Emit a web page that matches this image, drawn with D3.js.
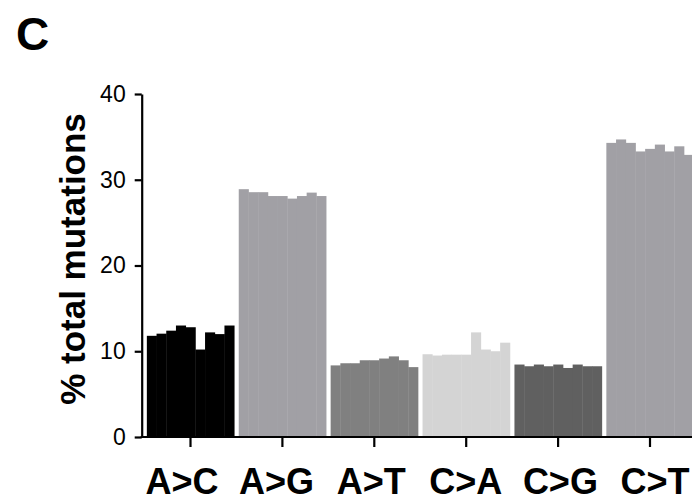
<!DOCTYPE html>
<html>
<head>
<meta charset="utf-8">
<script src="https://cdn.jsdelivr.net/npm/d3@7"></script>
<style>
  html, body { margin: 0; padding: 0; background: #fff; }
  svg { display: block; font-family: "Liberation Sans", Arial, Helvetica, sans-serif; }
</style>
</head>
<body>
<svg id="chart" width="692" height="502"></svg>
<script>
// ---- data ----
const categories = ["A>C", "A>G", "A>T", "C>A", "C>G", "C>T"];
const replicates = ["r1", "r2", "r3", "r4", "r5", "r6", "r7", "r8", "r9"];
const valuesAC = [11.8, 12.05, 12.4, 13.0, 12.8, 10.2, 12.2, 12.0, 13.0];
const valuesAG = [28.9, 28.55, 28.55, 28.1, 28.1, 27.8, 28.1, 28.5, 28.1];
const valuesAT = [8.35, 8.6, 8.6, 8.95, 8.95, 9.15, 9.4, 8.95, 8.15];
const valuesCA = [9.65, 9.5, 9.6, 9.6, 9.6, 12.2, 10.2, 10.0, 11.0];
const valuesCG = [8.45, 8.25, 8.45, 8.25, 8.45, 8.05, 8.45, 8.25, 8.25];
const valuesCT = [34.3, 34.7, 34.3, 33.3, 33.6, 34.1, 33.3, 33.9, 32.9];
const yTicks = [0, 10, 20, 30, 40];
const yLabel = "% total mutations";
const panelLabel = "C";

const seriesValues = [valuesAC, valuesAG, valuesAT, valuesCA, valuesCG, valuesCT];
const colors = ["#000000", "#a1a0a5", "#808080", "#d4d4d4", "#606060", "#a1a0a5"];

// ---- layout ----
const svg = d3.select("#chart");
const axisX = 141.7;
const y = d3.scaleLinear().domain([0, 40]).range([437, 94]);
const x = d3.scaleBand().domain(categories)
  .range([144.55, 144.55 + 6 * 91.9])
  .paddingInner(0.05).paddingOuter(0.025);
const xr = d3.scaleBand().domain(replicates).range([0, x.bandwidth()]).padding(0);
// category labels are spaced slightly wider than the ticks in the original
const xLab = d3.scalePoint().domain(categories).range([182, 655]);

// bars
const groups = svg.append("g").selectAll("g")
  .data(categories)
  .join("g")
  .attr("transform", d => `translate(${x(d)},0)`);

groups.each(function(cat, i) {
  d3.select(this).selectAll("rect")
    .data(seriesValues[i].map((v, j) => ({ rep: replicates[j], v })))
    .join("rect")
    .attr("x", d => xr(d.rep))
    .attr("width", xr.bandwidth() + 0.4)
    .attr("y", d => y(d.v))
    .attr("height", d => y(0) - y(d.v))
    .attr("fill", colors[i]);
});

// y axis
const yAxis = svg.append("g")
  .attr("transform", `translate(${axisX},0)`)
  .call(d3.axisLeft(y).tickValues(yTicks).tickSize(7).tickPadding(9).tickSizeOuter(0));
yAxis.select(".domain").attr("stroke", "#000").attr("stroke-width", 2.2);
yAxis.selectAll(".tick line").attr("stroke", "#000").attr("stroke-width", 2.2);
yAxis.selectAll(".tick text")
  .attr("font-size", 23).attr("fill", "#000")
  .attr("font-family", "Liberation Sans, Arial, sans-serif");

// x axis (ticks only, labels placed separately)
const xAxis = svg.append("g")
  .attr("transform", `translate(0,${y(0)})`)
  .call(d3.axisBottom(x).tickSize(10).tickFormat("").tickSizeOuter(0));
xAxis.select(".domain").attr("d", `M${axisX - 1.1},0H700`)
  .attr("stroke", "#000").attr("stroke-width", 2.2);
xAxis.selectAll(".tick line").attr("stroke", "#000").attr("stroke-width", 2.2);

svg.append("g").selectAll("text")
  .data(categories)
  .join("text")
  .attr("x", d => xLab(d))
  .attr("y", 494)
  .attr("text-anchor", "middle")
  .attr("font-size", 36).attr("font-weight", "bold").attr("fill", "#000")
  .text(d => d);

// y label
svg.append("text")
  .attr("transform", `translate(85,259) rotate(-90)`)
  .attr("text-anchor", "middle")
  .attr("font-size", 35).attr("font-weight", "bold").attr("fill", "#000")
  .text(yLabel);

// panel label
svg.append("text")
  .attr("x", 16).attr("y", 50)
  .attr("font-size", 46).attr("font-weight", "bold").attr("fill", "#000")
  .text(panelLabel);
</script>
</body>
</html>
